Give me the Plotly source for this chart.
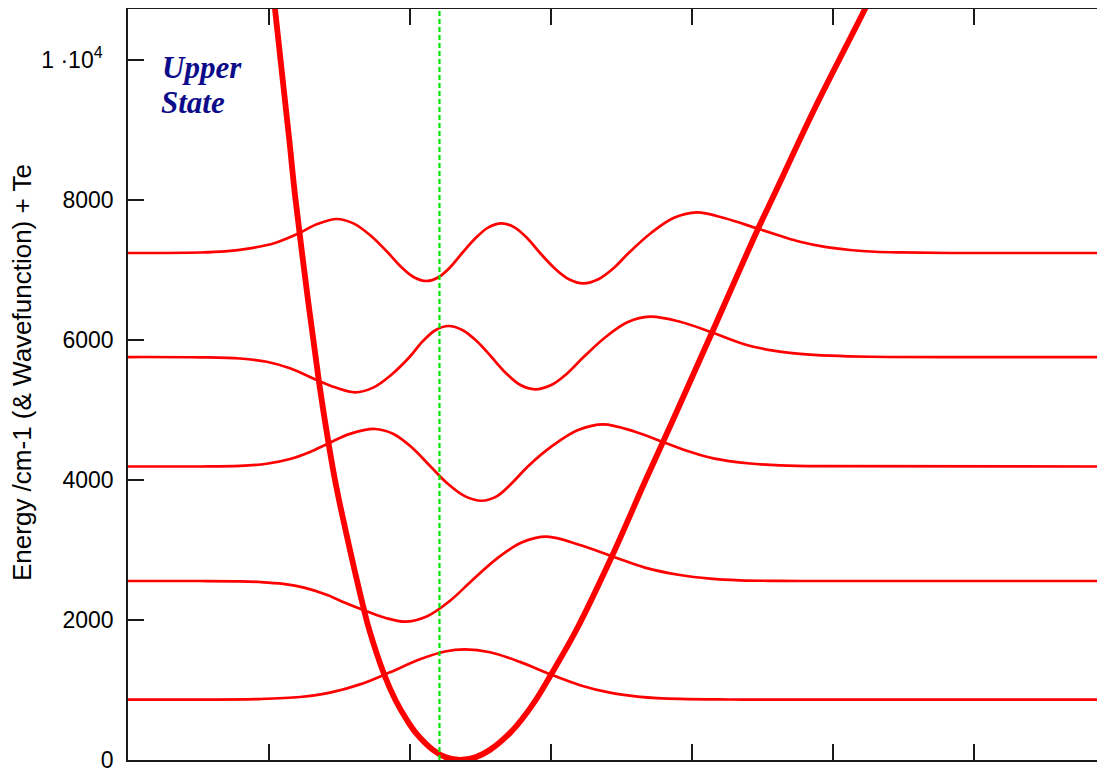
import plotly.graph_objects as go

# ---------------- data ----------------
x_ticks = [0.8, 1.0, 1.2, 1.4, 1.6, 1.8, 2.0, 2.2]
y_ticks = [0, 2000, 4000, 6000, 8000, 10000]
y_ticktext = ["0", "2000", "4000", "6000", "8000", "1 \u00b710<sup>4</sup>\u00a0\u2009"]

x_range = [0.8, 2.2]
y_range = [0, 10729]

# upper-state potential curve
pot_r = [1.0014, 1.0085, 1.0288, 1.0369, 1.0553, 1.0709, 1.0837, 1.0936, 1.1054, 1.1348,
         1.1423, 1.1637, 1.1793, 1.1956, 1.2089, 1.2328, 1.2499, 1.2709, 1.2938, 1.3131,
         1.3413, 1.3579, 1.3784, 1.3997, 1.4359, 1.4861, 1.5343, 1.5730, 1.6279, 1.6940,
         1.7163, 1.7730, 1.8454, 1.8794]
pot_E = [11429, 10729, 8857, 8071, 6571, 5404, 4571, 4000, 3429, 2143,
         1857, 1214, 857, 571, 381, 143, 43, 0, 43, 143,
         381, 571, 857, 1214, 1857, 2904, 4000, 4857, 6096, 7596,
         8071, 9286, 10729, 11429]

# vibrational wavefunctions, each drawn on its level energy
v0_r = [0.8000, 0.9021, 0.9872, 1.0440, 1.0865, 1.1291, 1.1716, 1.2142, 1.2496, 1.2780,
        1.3135, 1.3560, 1.3986, 1.4411, 1.4837, 1.5262, 1.5830, 1.6539, 1.7532, 2.2000]
v0_E = [863, 863, 871, 900, 962, 1080, 1253, 1439, 1550, 1580,
        1539, 1402, 1226, 1069, 962, 903, 872, 864, 863, 863]

v1_r = [0.8000, 0.9021, 0.9589, 0.9872, 1.0203, 1.0511, 1.0818, 1.1078, 1.1338, 1.1645,
        1.1929, 1.2244, 1.2557, 1.2872, 1.3228, 1.3583, 1.3939, 1.4411, 1.4884, 1.5333,
        1.5830, 1.6255, 1.6681, 1.7106, 1.7532, 2.2000]
v1_E = [2557, 2557, 2553, 2543, 2516, 2459, 2361, 2247, 2143, 2033,
        1976, 2054, 2266, 2557, 2874, 3106, 3190, 3071, 2904, 2749,
        2643, 2591, 2567, 2560, 2557, 2557]

v2_r = [0.8000, 0.9021, 0.9589, 0.9967, 1.0298, 1.0582, 1.0841, 1.1149, 1.1504, 1.1766,
        1.2030, 1.2292, 1.2533, 1.2776, 1.3017, 1.3235, 1.3454, 1.3671, 1.4028, 1.4384,
        1.4742, 1.5191, 1.5617, 1.5972, 1.6302, 1.6823, 1.7248, 1.7816, 2.2000]
v2_E = [4193, 4193, 4202, 4232, 4300, 4401, 4523, 4659, 4729, 4657,
        4461, 4193, 3949, 3770, 3704, 3770, 3964, 4193, 4494, 4714,
        4796, 4690, 4533, 4404, 4310, 4236, 4209, 4197, 4193]

v3_r = [0.8000, 0.9021, 0.9589, 0.9967, 1.0298, 1.0677, 1.0936, 1.1220, 1.1478, 1.1736,
        1.1994, 1.2177, 1.2360, 1.2543, 1.2748, 1.2952, 1.3156, 1.3362, 1.3567, 1.3773,
        1.4003, 1.4233, 1.4462, 1.4776, 1.5091, 1.5404, 1.5830, 1.6255, 1.6776, 1.7177,
        1.7532, 1.7957, 1.8525, 2.2000]
v3_E = [5757, 5753, 5736, 5690, 5596, 5429, 5324, 5253, 5320, 5504,
        5757, 5979, 6140, 6200, 6140, 5979, 5757, 5526, 5357, 5296,
        5357, 5526, 5757, 6044, 6256, 6333, 6261, 6119, 5929, 5844,
        5803, 5776, 5761, 5757]

v4_r = [0.8000, 0.9021, 0.9376, 0.9730, 1.0085, 1.0393, 1.0677, 1.0960, 1.1204, 1.1448,
        1.1692, 1.1874, 1.2055, 1.2237, 1.2404, 1.2573, 1.2740, 1.2928, 1.3113, 1.3301,
        1.3482, 1.3664, 1.3845, 1.4050, 1.4254, 1.4458, 1.4672, 1.4887, 1.5101, 1.5423,
        1.5745, 1.6067, 1.6468, 1.6918, 1.7248, 1.7532, 1.7887, 1.8241, 1.8596, 1.8950,
        1.9660, 2.2000]
v4_E = [7243, 7250, 7266, 7310, 7387, 7510, 7653, 7729, 7663, 7486,
        7243, 7043, 6897, 6843, 6897, 7043, 7243, 7454, 7610, 7667,
        7610, 7454, 7243, 7026, 6869, 6810, 6869, 7026, 7243, 7533,
        7746, 7824, 7739, 7596, 7490, 7404, 7330, 7286, 7261, 7251,
        7243, 7243]

lower_re = 1.2418  # vertical dashed green line

# ---------------- figure ----------------
fig = go.Figure()

for r, E in [(v0_r, v0_E), (v1_r, v1_E), (v2_r, v2_E), (v3_r, v3_E), (v4_r, v4_E)]:
    fig.add_trace(go.Scatter(x=r, y=E, mode="lines",
                             line=dict(color="#ff0000", width=2.7, shape="spline", smoothing=1.0),
                             hoverinfo="skip"))

fig.add_trace(go.Scatter(x=pot_r, y=pot_E, mode="lines",
                         line=dict(color="#ff0000", width=5.8, shape="spline", smoothing=1.0),
                         hoverinfo="skip"))

fig.add_trace(go.Scatter(x=[lower_re, lower_re], y=[y_range[0], y_range[1]], mode="lines",
                         line=dict(color="#00e600", width=2.2, dash="5px,3px"),
                         hoverinfo="skip"))

axis_col = "#1a1a1a"
fig.update_xaxes(range=x_range, showline=True, linecolor=axis_col, linewidth=1.5,
                 mirror="ticks", ticks="inside", ticklen=16, tickwidth=1.5, tickcolor=axis_col,
                 tickmode="array", tickvals=x_ticks, showticklabels=False,
                 showgrid=False, zeroline=False, automargin=False)
fig.update_yaxes(range=y_range, showline=True, linecolor=axis_col, linewidth=1.5,
                 mirror="ticks", ticks="inside", ticklen=16, tickwidth=1.5, tickcolor=axis_col,
                 tickmode="array", tickvals=y_ticks, ticktext=y_ticktext,
                 tickfont=dict(family="Liberation Sans, Arial, sans-serif", size=23, color="black"),
                 ticklabelstandoff=8, showgrid=False, zeroline=False, automargin=False)

label_font = dict(family="Liberation Serif, Times New Roman, serif", size=31, color="#0c0c8a")

fig.update_layout(
    width=1107, height=766,
    margin=dict(l=120, r=0, t=1, b=14),
    plot_bgcolor="white", paper_bgcolor="white",
    showlegend=False,
    annotations=[
        dict(x=0.8454, y=9900, xref="x", yref="y", xanchor="left", yanchor="middle",
             showarrow=False, text="<b><i>Upper</i></b>", font=label_font),
        dict(x=0.8440, y=9400, xref="x", yref="y", xanchor="left", yanchor="middle",
             showarrow=False, text="<b><i>State</i></b>", font=label_font),
        dict(x=-106 / 987, y=(752 - 365) / 751, xref="paper", yref="paper",
             xanchor="center", yanchor="middle", textangle=-90, showarrow=False,
             text="Energy /cm-1 (& Wavefunction) + Te",
             font=dict(family="Liberation Sans, Arial, sans-serif", size=26, color="black")),
    ],
)

fig.write_html("out.html")
